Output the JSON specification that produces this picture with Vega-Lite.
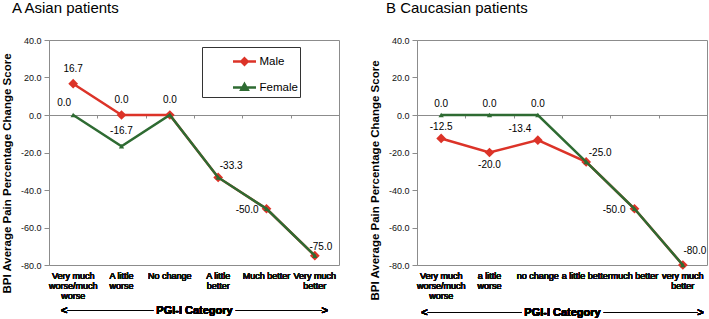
{
  "$schema": "https://vega.github.io/schema/vega-lite/v6.json",
  "background": "white",
  "padding": {"left": 0, "top": 0, "right": 0, "bottom": 0},
  "config": {
    "font": "Liberation Sans",
    "locale": {"number": {"decimal": ".", "thousands": ",", "grouping": [3], "currency": ["$", ""], "minus": "-"}},
    "view": {"stroke": "#8c8c8c", "strokeWidth": 1},
    "axis": {"grid": false, "labelFont": "Liberation Sans", "titleFont": "Liberation Sans", "labelColor": "#111", "titleColor": "#000"},
    "concat": {"spacing": 28},
    "title": {"font": "Liberation Sans", "fontSize": 15, "fontWeight": "normal", "color": "#000", "anchor": "start", "frame": "group", "offset": 20}
  },
  "datasets": {
    "asian": [
      {"cat": "Very much worse/much worse", "sex": "Male", "value": 16.7},
      {"cat": "A little worse", "sex": "Male", "value": 0},
      {"cat": "No change", "sex": "Male", "value": 0},
      {"cat": "A little better", "sex": "Male", "value": -33.3},
      {"cat": "Much better", "sex": "Male", "value": -50},
      {"cat": "Very much better", "sex": "Male", "value": -75},
      {"cat": "Very much worse/much worse", "sex": "Female", "value": 0},
      {"cat": "A little worse", "sex": "Female", "value": -16.7},
      {"cat": "No change", "sex": "Female", "value": 0},
      {"cat": "A little better", "sex": "Female", "value": -33.3},
      {"cat": "Much better", "sex": "Female", "value": -50},
      {"cat": "Very much better", "sex": "Female", "value": -75}
    ],
    "caucasian": [
      {"cat": "Very much worse/much worse", "sex": "Male", "value": -12.5},
      {"cat": "a little worse", "sex": "Male", "value": -20},
      {"cat": "no change", "sex": "Male", "value": -13.4},
      {"cat": "a little better", "sex": "Male", "value": -25},
      {"cat": "much better", "sex": "Male", "value": -50},
      {"cat": "very much better", "sex": "Male", "value": -80},
      {"cat": "Very much worse/much worse", "sex": "Female", "value": 0},
      {"cat": "a little worse", "sex": "Female", "value": 0},
      {"cat": "no change", "sex": "Female", "value": 0},
      {"cat": "a little better", "sex": "Female", "value": -25},
      {"cat": "much better", "sex": "Female", "value": -50},
      {"cat": "very much better", "sex": "Female", "value": -80}
    ]
  },
  "hconcat": [
    {
      "width": 290,
      "height": 225,
      "title": {"text": "A Asian patients", "dx": -37},
      "data": {"name": "asian"},
      "encoding": {
        "x": {
          "field": "cat", "type": "nominal",
          "sort": ["Very much worse/much worse", "A little worse", "No change", "A little better", "Much better", "Very much better"],
          "scale": {"type": "band", "paddingInner": 0, "paddingOuter": 0},
          "axis": {
            "orient": "bottom", "domain": false, "ticks": false, "labelAngle": 0, "labelFontSize": 9, "labelLineHeight": 10,
            "labelPadding": 6, "labelOverlap": false, "labelLimit": 0,
            "labelExpr": "datum.value == 'Very much worse/much worse' ? ['Very much','worse/much','worse'] : datum.value == 'A little worse' ? ['A little','worse'] : datum.value == 'A little better' ? ['A little','better'] : datum.value == 'Very much better' ? ['Very much','better'] : datum.value",
            "title": "<─────────── PGI-I Category ───────────>",
            "titleFontSize": 11, "titleFontWeight": "bold", "titlePadding": 4
          }
        },
        "y": {
          "field": "value", "type": "quantitative",
          "scale": {"domain": [-80, 40], "nice": false, "zero": false},
          "axis": {
            "values": [40, 20, 0, -20, -40, -60, -80], "format": ".1f", "tickSize": 5, "tickColor": "#8c8c8c", "domainColor": "#8c8c8c",
            "labelFontSize": 9, "labelPadding": 3,
            "title": "BPI Average Pain Percentage  Change Score", "titleFontSize": 11.5, "titleFontWeight": "bold", "titlePadding": 8, "titleY": 133
          }
        }
      },
      "layer": [
        {"transform": [{"filter": "datum.sex == 'Male'"}], "mark": {"type": "line", "color": "#dc3328", "strokeWidth": 2.5}},
        {"transform": [{"filter": "datum.sex == 'Male'"}], "mark": {"type": "point", "shape": "diamond", "filled": true, "size": 95, "color": "#dc3328", "opacity": 1}},
        {"transform": [{"filter": "datum.sex == 'Female'"}], "mark": {"type": "line", "color": "#2e6b32", "strokeWidth": 2.5}},
        {"transform": [{"filter": "datum.sex == 'Female'"}], "mark": {"type": "point", "shape": "triangle-up", "filled": true, "size": 28, "color": "#2e6b32", "opacity": 1}},
        {
          "mark": {"type": "point", "opacity": 0, "filled": false},
          "encoding": {
            "x": {
              "field": "cat", "type": "nominal",
              "sort": ["Very much worse/much worse", "A little worse", "No change", "A little better", "Much better", "Very much better"],
              "scale": {"type": "band", "paddingInner": 0, "paddingOuter": 0},
              "axis": {"orient": "bottom", "offset": -150, "labels": false, "title": null, "domain": true, "domainColor": "#8c8c8c", "ticks": true, "tickBand": "extent", "tickSize": 3, "tickColor": "#8c8c8c"}
            },
            "fill": {"field": "sex", "type": "nominal", "scale": {"domain": ["Male", "Female"], "range": ["#dc3328", "#2e6b32"]},
              "legend": {"orient": "none", "legendX": 153, "legendY": 7, "title": null, "strokeColor": "#333", "fillColor": "white", "padding": 1.5, "symbolSize": 529, "symbolStrokeWidth": 2.5, "symbolOpacity": 1, "symbolOffset": 28, "labelOffset": 2, "labelFontSize": 11.5, "labelColor": "#000", "rowPadding": 4, "labelExpr": "datum.label + '\u00a0\u00a0\u00a0\u00a0\u00a0\u00a0\u00a0\u00a0'"}},
            "stroke": {"field": "sex", "type": "nominal", "scale": {"domain": ["Male", "Female"], "range": ["#dc3328", "#2e6b32"]},
              "legend": {"orient": "none", "legendX": 153, "legendY": 7, "title": null, "strokeColor": "#333", "fillColor": "white", "padding": 1.5, "symbolSize": 529, "symbolStrokeWidth": 2.5, "symbolOpacity": 1, "symbolOffset": 28, "labelOffset": 2, "labelFontSize": 11.5, "labelColor": "#000", "rowPadding": 4, "labelExpr": "datum.label + '\u00a0\u00a0\u00a0\u00a0\u00a0\u00a0\u00a0\u00a0'"}},
            "shape": {"field": "sex", "type": "nominal", "scale": {"domain": ["Male", "Female"], "range": ["M-1,0H1M0,-0.28L0.28,0L0,0.28L-0.28,0Z", "M-1,0H1M0,-0.3L0.28,0.2L-0.28,0.2Z"]},
              "legend": {"orient": "none", "legendX": 153, "legendY": 7, "title": null, "strokeColor": "#333", "fillColor": "white", "padding": 1.5, "symbolSize": 529, "symbolStrokeWidth": 2.5, "symbolOpacity": 1, "symbolOffset": 28, "labelOffset": 2, "labelFontSize": 11.5, "labelColor": "#000", "rowPadding": 4, "labelExpr": "datum.label + '\u00a0\u00a0\u00a0\u00a0\u00a0\u00a0\u00a0\u00a0'"}}
          }
        },
        {
          "data": {"values": [
            {"cat": "Very much worse/much worse", "value": 16.7},
            {"cat": "A little worse", "value": 0},
            {"cat": "No change", "value": 0},
            {"cat": "A little worse", "value": -16.7}
          ]},
          "mark": {"type": "text", "dy": -15, "fontSize": 10, "color": "#000"},
          "encoding": {"text": {"field": "value", "type": "quantitative", "format": ".1f"}}
        },
        {
          "data": {"values": [{"cat": "Very much worse/much worse", "value": 0}]},
          "mark": {"type": "text", "dx": -9, "dy": -12, "fontSize": 10, "color": "#000"},
          "encoding": {"text": {"field": "value", "type": "quantitative", "format": ".1f"}}
        },
        {
          "data": {"values": [{"cat": "A little better", "value": -33.3}]},
          "mark": {"type": "text", "dx": 13, "dy": -11, "fontSize": 10, "color": "#000"},
          "encoding": {"text": {"field": "value", "type": "quantitative", "format": ".1f"}}
        },
        {
          "data": {"values": [{"cat": "Very much better", "value": -75}]},
          "mark": {"type": "text", "dx": 6, "dy": -9, "fontSize": 10, "color": "#000"},
          "encoding": {"text": {"field": "value", "type": "quantitative", "format": ".1f"}}
        },
        {
          "data": {"values": [{"cat": "Much better", "value": -50}]},
          "mark": {"type": "text", "align": "right", "dx": -8, "dy": 1, "fontSize": 10, "color": "#000"},
          "encoding": {"text": {"field": "value", "type": "quantitative", "format": ".1f"}}
        }
      ],
      "resolve": {"axis": {"x": "independent"}}
    },
    {
      "width": 290,
      "height": 225,
      "title": {"text": "B Caucasian patients", "dx": -31},
      "data": {"name": "caucasian"},
      "encoding": {
        "x": {
          "field": "cat", "type": "nominal",
          "sort": ["Very much worse/much worse", "a little worse", "no change", "a little better", "much better", "very much better"],
          "scale": {"type": "band", "paddingInner": 0, "paddingOuter": 0},
          "axis": {
            "orient": "bottom", "domain": false, "ticks": false, "labelAngle": 0, "labelFontSize": 9, "labelLineHeight": 10,
            "labelPadding": 6, "labelOverlap": false, "labelLimit": 0,
            "labelExpr": "datum.value == 'Very much worse/much worse' ? ['Very much','worse/much','worse'] : datum.value == 'a little worse' ? ['a little','worse'] : datum.value == 'very much better' ? ['very much','better'] : datum.value",
            "title": "<──────────── PGI-I Category ────────────>",
            "titleFontSize": 11, "titleFontWeight": "bold", "titlePadding": 6
          }
        },
        "y": {
          "field": "value", "type": "quantitative",
          "scale": {"domain": [-80, 40], "nice": false, "zero": false},
          "axis": {
            "values": [40, 20, 0, -20, -40, -60, -80], "format": ".1f", "tickSize": 5, "tickColor": "#8c8c8c", "domainColor": "#8c8c8c",
            "labelFontSize": 9, "labelPadding": 3,
            "title": "BPI Average Pain Percentage Change Score", "titleFontSize": 11.5, "titleFontWeight": "bold", "titlePadding": 8, "titleY": 140
          }
        }
      },
      "layer": [
        {"transform": [{"filter": "datum.sex == 'Male'"}], "mark": {"type": "line", "color": "#dc3328", "strokeWidth": 2.5}},
        {"transform": [{"filter": "datum.sex == 'Male'"}], "mark": {"type": "point", "shape": "diamond", "filled": true, "size": 95, "color": "#dc3328", "opacity": 1}},
        {"transform": [{"filter": "datum.sex == 'Female'"}], "mark": {"type": "line", "color": "#2e6b32", "strokeWidth": 2.5}},
        {"transform": [{"filter": "datum.sex == 'Female'"}], "mark": {"type": "point", "shape": "triangle-up", "filled": true, "size": 28, "color": "#2e6b32", "opacity": 1}},
        {
          "mark": {"type": "point", "opacity": 0, "filled": false},
          "encoding": {
            "x": {
              "field": "cat", "type": "nominal",
              "sort": ["Very much worse/much worse", "a little worse", "no change", "a little better", "much better", "very much better"],
              "scale": {"type": "band", "paddingInner": 0, "paddingOuter": 0},
              "axis": {"orient": "bottom", "offset": -150, "labels": false, "title": null, "domain": true, "domainColor": "#8c8c8c", "ticks": true, "tickBand": "extent", "tickSize": 3, "tickColor": "#8c8c8c"}
            },
            "fill": {"field": "sex", "type": "nominal", "scale": {"domain": ["Male", "Female"], "range": ["#dc3328", "#2e6b32"]},
              "legend": {"orient": "none", "legendX": 173, "legendY": 10, "title": null, "strokeColor": "#333", "fillColor": "white", "padding": 1.5, "symbolSize": 529, "symbolStrokeWidth": 2.5, "symbolOpacity": 1, "symbolOffset": 20, "labelOffset": 2, "labelFontSize": 11.5, "labelColor": "#000", "rowPadding": 4, "labelExpr": "datum.label + '\u00a0\u00a0\u00a0\u00a0\u00a0\u00a0'"}},
            "stroke": {"field": "sex", "type": "nominal", "scale": {"domain": ["Male", "Female"], "range": ["#dc3328", "#2e6b32"]},
              "legend": {"orient": "none", "legendX": 173, "legendY": 10, "title": null, "strokeColor": "#333", "fillColor": "white", "padding": 1.5, "symbolSize": 529, "symbolStrokeWidth": 2.5, "symbolOpacity": 1, "symbolOffset": 20, "labelOffset": 2, "labelFontSize": 11.5, "labelColor": "#000", "rowPadding": 4, "labelExpr": "datum.label + '\u00a0\u00a0\u00a0\u00a0\u00a0\u00a0'"}},
            "shape": {"field": "sex", "type": "nominal", "scale": {"domain": ["Male", "Female"], "range": ["M-1,0H1M0,-0.28L0.28,0L0,0.28L-0.28,0Z", "M-1,0H1M0,-0.3L0.28,0.2L-0.28,0.2Z"]},
              "legend": {"orient": "none", "legendX": 173, "legendY": 10, "title": null, "strokeColor": "#333", "fillColor": "white", "padding": 1.5, "symbolSize": 529, "symbolStrokeWidth": 2.5, "symbolOpacity": 1, "symbolOffset": 20, "labelOffset": 2, "labelFontSize": 11.5, "labelColor": "#000", "rowPadding": 4, "labelExpr": "datum.label + '\u00a0\u00a0\u00a0\u00a0\u00a0\u00a0'"}}
          }
        },
        {
          "data": {"values": [
            {"cat": "Very much worse/much worse", "value": 0},
            {"cat": "a little worse", "value": 0},
            {"cat": "no change", "value": 0},
            {"cat": "Very much worse/much worse", "value": -12.5}
          ]},
          "mark": {"type": "text", "dy": -11, "fontSize": 10, "color": "#000"},
          "encoding": {"text": {"field": "value", "type": "quantitative", "format": ".1f"}}
        },
        {
          "data": {"values": [{"cat": "a little worse", "value": -20}]},
          "mark": {"type": "text", "dy": 12, "fontSize": 10, "color": "#000"},
          "encoding": {"text": {"field": "value", "type": "quantitative", "format": ".1f"}}
        },
        {
          "data": {"values": [{"cat": "no change", "value": -13.4}]},
          "mark": {"type": "text", "dx": -18, "dy": -11, "fontSize": 10, "color": "#000"},
          "encoding": {"text": {"field": "value", "type": "quantitative", "format": ".1f"}}
        },
        {
          "data": {"values": [{"cat": "a little better", "value": -25}]},
          "mark": {"type": "text", "dx": 14, "dy": -9, "fontSize": 10, "color": "#000"},
          "encoding": {"text": {"field": "value", "type": "quantitative", "format": ".1f"}}
        },
        {
          "data": {"values": [{"cat": "very much better", "value": -80}]},
          "mark": {"type": "text", "dx": 12, "dy": -14, "fontSize": 10, "color": "#000"},
          "encoding": {"text": {"field": "value", "type": "quantitative", "format": ".1f"}}
        },
        {
          "data": {"values": [{"cat": "much better", "value": -50}]},
          "mark": {"type": "text", "align": "right", "dx": -9, "dy": 1, "fontSize": 10, "color": "#000"},
          "encoding": {"text": {"field": "value", "type": "quantitative", "format": ".1f"}}
        }
      ],
      "resolve": {"axis": {"x": "independent"}}
    }
  ]
}
